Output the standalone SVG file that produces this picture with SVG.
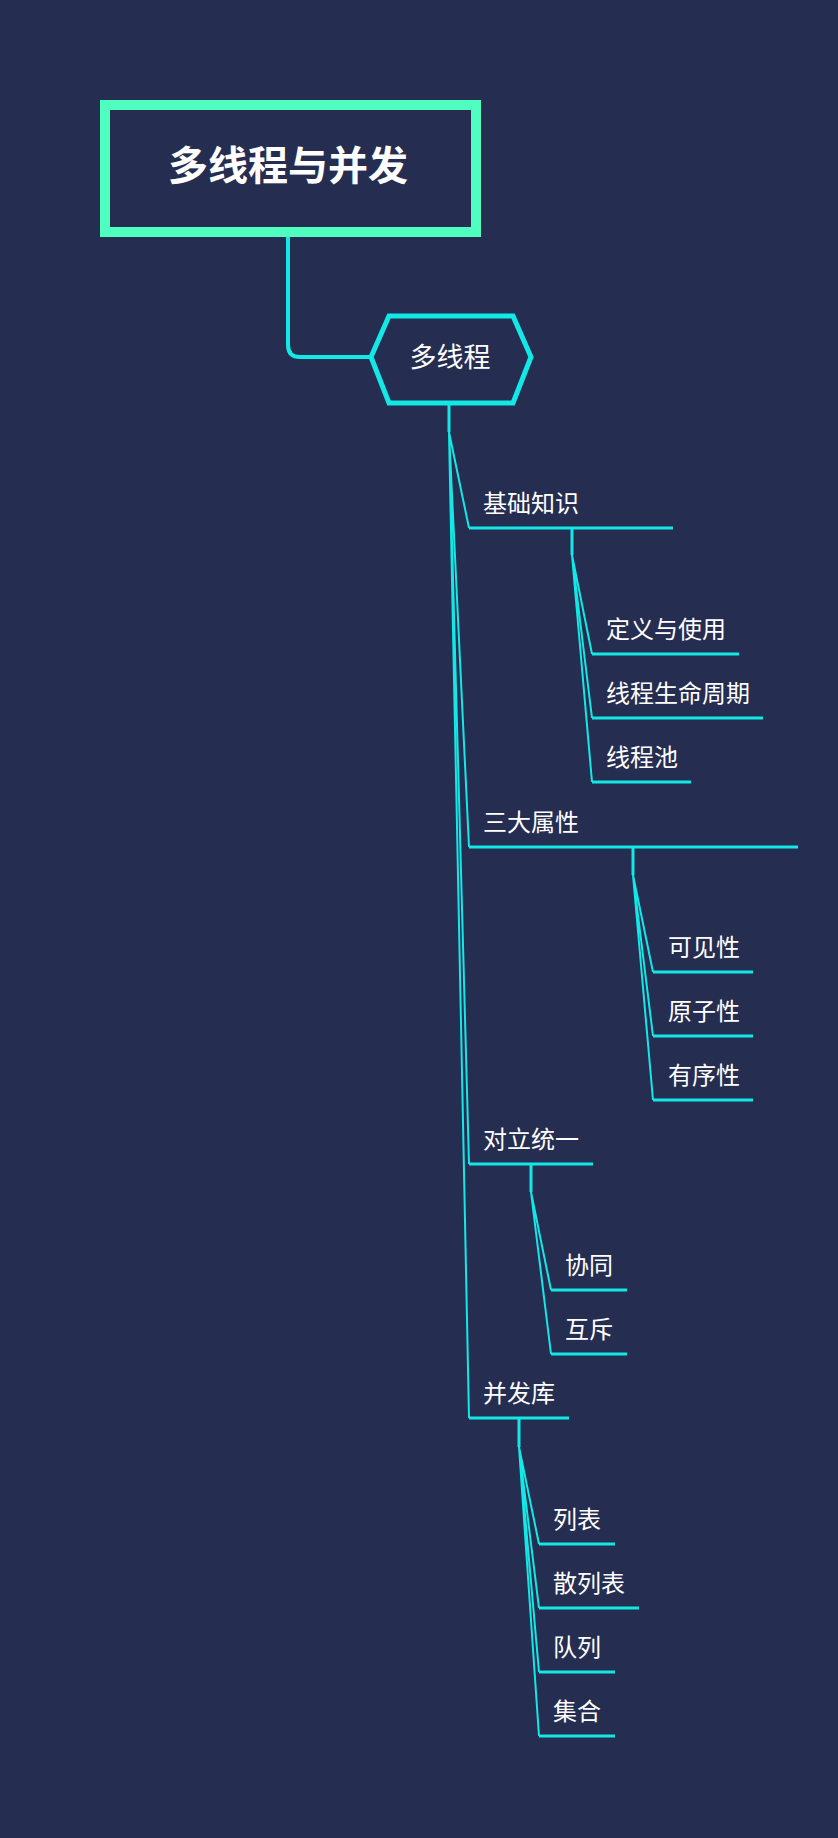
<svg xmlns="http://www.w3.org/2000/svg" width="838" height="1838" viewBox="0 0 838 1838">
<style>
.bg{fill:#252D51}
.t{font-family:"Noto Sans CJK SC","Noto Sans",sans-serif;fill:#FFFFFF;font-size:24px}
.title{font-size:40px;font-weight:bold;text-anchor:middle}
.main{font-size:27px;text-anchor:middle}
.ln{stroke:#12E9E6;fill:none;stroke-width:2}
.ul{stroke:#12E9E6;fill:none;stroke-width:3}
</style>
<rect class="bg" x="0" y="0" width="838" height="1838"/>
<g id="connectors">
<path d="M288,237 V345 Q288,357 300,357 H372" stroke="#12E9E6" stroke-width="4" fill="none"/>
<path d="M449,403 V432" class="ul"/>
<path d="M449,432 L469,528 M449,432 L469,847 M449,432 L469,1164 M449,432 L469,1418" class="ln"/>
<path d="M572,528 V555 M633,847 V875 M531,1164 V1192 M519,1418 V1447" class="ul"/>
<path d="M572,555 L592,654 M572,555 L592,718 M572,555 L592,782" class="ln"/>
<path d="M633,875 L653,972 M633,875 L653,1036 M633,875 L653,1100" class="ln"/>
<path d="M531,1192 L551,1290 M531,1192 L551,1354" class="ln"/>
<path d="M519,1447 L539,1544 M519,1447 L539,1608 M519,1447 L539,1672 M519,1447 L539,1736" class="ln"/>
</g>
<g id="root">
<rect x="105" y="105" width="371" height="127" fill="#252D51" stroke="#50FFBF" stroke-width="10"/>
<text class="t title" x="288" y="180">多线程与并发</text>
</g>
<g id="n-duoxiancheng">
<polygon points="371,357 389,316 513,316 531,357 513,403 389,403" fill="#252D51" stroke="#12E9E6" stroke-width="5"/>
<text class="t main" x="450" y="367">多线程</text>
</g>
<g id="n-jichu"><path d="M469,528 H673" class="ul"/><text class="t" x="483" y="512">基础知识</text></g>
<g id="n-dingyi"><path d="M592,654 H739" class="ul"/><text class="t" x="606" y="638">定义与使用</text></g>
<g id="n-shengming"><path d="M592,718 H763" class="ul"/><text class="t" x="606" y="702">线程生命周期</text></g>
<g id="n-chi"><path d="M592,782 H691" class="ul"/><text class="t" x="606" y="766">线程池</text></g>
<g id="n-sanda"><path d="M469,847 H798" class="ul"/><text class="t" x="483" y="831">三大属性</text></g>
<g id="n-kejian"><path d="M653,972 H753" class="ul"/><text class="t" x="668" y="956">可见性</text></g>
<g id="n-yuanzi"><path d="M653,1036 H753" class="ul"/><text class="t" x="668" y="1020">原子性</text></g>
<g id="n-youxu"><path d="M653,1100 H753" class="ul"/><text class="t" x="668" y="1084">有序性</text></g>
<g id="n-duili"><path d="M469,1164 H593" class="ul"/><text class="t" x="483" y="1148">对立统一</text></g>
<g id="n-xietong"><path d="M551,1290 H627" class="ul"/><text class="t" x="565" y="1274">协同</text></g>
<g id="n-huchi"><path d="M551,1354 H627" class="ul"/><text class="t" x="565" y="1338">互斥</text></g>
<g id="n-bingfaku"><path d="M469,1418 H569" class="ul"/><text class="t" x="483" y="1402">并发库</text></g>
<g id="n-liebiao"><path d="M539,1544 H615" class="ul"/><text class="t" x="553" y="1528">列表</text></g>
<g id="n-sanlie"><path d="M539,1608 H639" class="ul"/><text class="t" x="553" y="1592">散列表</text></g>
<g id="n-duilie"><path d="M539,1672 H615" class="ul"/><text class="t" x="553" y="1656">队列</text></g>
<g id="n-jihe"><path d="M539,1736 H615" class="ul"/><text class="t" x="553" y="1720">集合</text></g>
</svg>
